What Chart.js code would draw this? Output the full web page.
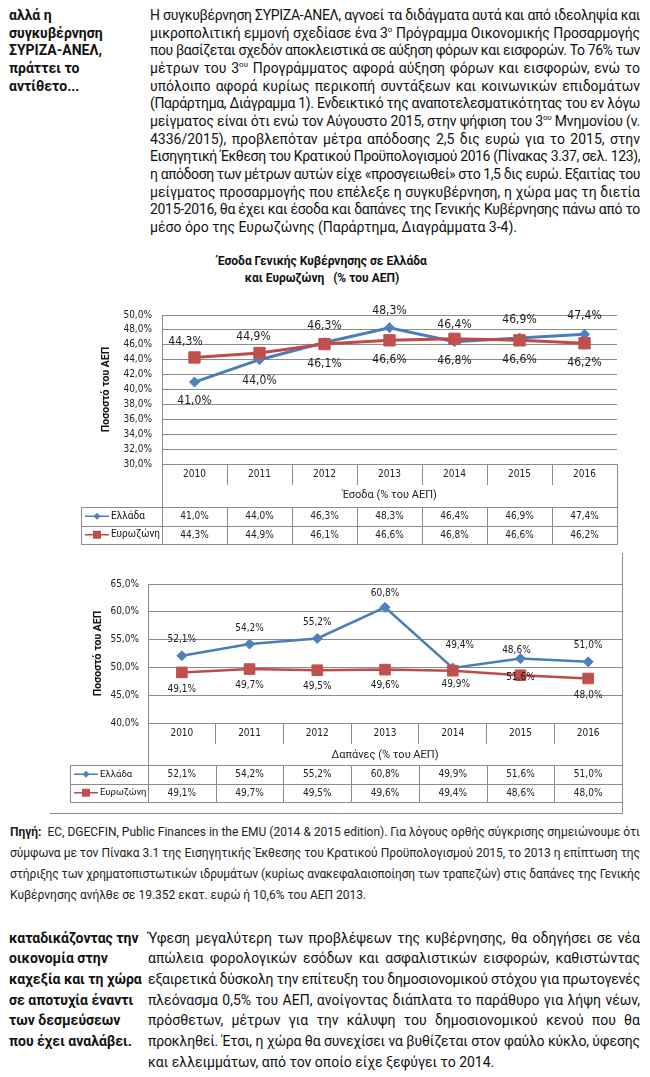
<!DOCTYPE html>
<html lang="el">
<head>
<meta charset="utf-8">
<title>Έσοδα και Δαπάνες Γενικής Κυβέρνησης</title>
<script src="https://cdn.jsdelivr.net/npm/chart.js@4.4.1/dist/chart.umd.min.js"></script>
<style>
  html, body { margin:0; padding:0; background:#fff; }
  body { position:relative; width:650px; height:1077px; overflow:hidden;
         font-family: Roboto, "Noto Sans", sans-serif; color:#111; }
  .ln { position:absolute; white-space:nowrap; }
  .txt { font-size:14px; }
  .side { font-size:14px; font-weight:bold; }
  .src { font-size:12px; color:#222; }
  sup { font-size:8px; line-height:0; vertical-align:6px; }
  .ctitle { position:absolute; left:172px; width:300px; text-align:center;
            font-weight:bold; font-size:12px; line-height:16px; }
  canvas { position:absolute; left:0; }
</style>
</head>
<body>
<div class="ctitle" style="top:253px">Έσοδα Γενικής Κυβέρνησης σε Ελλάδα</div>
<div class="ctitle" style="top:270px">και Ευρωζώνη&nbsp;&nbsp; (% του ΑΕΠ)</div>
<canvas id="revChart" width="650" height="260" style="top:290px;width:650px;height:260px"></canvas>
<canvas id="spendChart" width="650" height="270" style="top:550px;width:650px;height:270px"></canvas>

<script>
// categories + series
const years = ['2010', '2011', '2012', '2013', '2014', '2015', '2016'];
const seriesNames = ['Ελλάδα', 'Ευρωζώνη'];

// Έσοδα (% του ΑΕΠ)
const revGreece = [41.0, 44.0, 46.3, 48.3, 46.4, 46.9, 47.4];
const revEuro   = [44.3, 44.9, 46.1, 46.6, 46.8, 46.6, 46.2];

// Δαπάνες (% του ΑΕΠ)
const spendGreece = [52.1, 54.2, 55.2, 60.8, 49.9, 51.6, 51.0];
const spendEuro   = [49.1, 49.7, 49.5, 49.6, 49.4, 48.6, 48.0];

// point labels as printed in the original (2014/2015 are swapped there)
const spendGreeceTags = ['52,1%', '54,2%', '55,2%', '60,8%', '49,4%', '48,6%', '51,0%'];
const spendEuroTags   = ['49,1%', '49,7%', '49,5%', '49,6%', '49,9%', '51,6%', '48,0%'];

// y axis ticks
const revTicks   = { min: 30, max: 50, step: 2 };
const spendTicks = { min: 40, max: 65, step: 5 };

const fmt = v => v.toFixed(1).replace('.', ',') + '%';

const BLUE = '#4a7ebb', BLUE_M = '#4f81bd';
const RED = '#be4b48', RED_M = '#c0504d';
const GRID = '#8c8c8c';
const NUM_FONT = "'DejaVu Sans Condensed', 'Liberation Sans', sans-serif";
const TXT_FONT = "Roboto, 'Noto Sans', sans-serif";

Chart.defaults.font.family = NUM_FONT;
Chart.defaults.color = '#222';

/* ---------- plugins ---------- */

// value labels next to the points
const pointTags = {
  id: 'pointTags',
  afterDatasetsDraw(chart, args, o) {
    const ctx = chart.ctx;
    ctx.save();
    ctx.font = o.font;
    ctx.fillStyle = '#1a1a1a';
    ctx.textAlign = 'center';
    ctx.textBaseline = 'middle';
    chart.data.datasets.forEach((ds, i) => {
      const set = o.sets[i];
      chart.getDatasetMeta(i).data.forEach((pt, j) => {
        const txt = set.text ? set.text[j] : fmt(ds.data[j]);
        ctx.fillText(txt, pt.x + (set.dx ? set.dx[j] : 0), pt.y + set.dy[j]);
      });
    });
    ctx.restore();
  }
};

// excel-like data table under the x axis
const dataTable = {
  id: 'dataTable',
  afterDraw(chart, args, o) {
    const { ctx, chartArea: ca, scales } = chart;
    const n = chart.data.labels.length;
    const cw = (ca.right - ca.left) / n;
    const rows = chart.data.datasets.length;
    const t0 = ca.bottom + o.top;
    const t1 = t0 + rows * o.rowH;
    const px = v => Math.round(v) + 0.5;

    ctx.save();
    ctx.strokeStyle = GRID;
    ctx.lineWidth = 1;
    ctx.beginPath();
    for (let r = 0; r <= rows; r++) {
      const y = px(t0 + r * o.rowH);
      ctx.moveTo(px(o.left), y); ctx.lineTo(px(ca.right), y);
    }
    ctx.moveTo(px(o.left), px(t0)); ctx.lineTo(px(o.left), px(t1));
    ctx.moveTo(px(ca.left), ca.bottom); ctx.lineTo(px(ca.left), px(t1));
    ctx.moveTo(px(ca.right), ca.bottom); ctx.lineTo(px(ca.right), px(t1));
    for (let i = 1; i < n; i++) {
      const x = px(ca.left + i * cw);
      ctx.moveTo(x, px(t0)); ctx.lineTo(x, px(t1));
    }
    if (o.frame) {
      ctx.moveTo(px(ca.right), o.frame.top); ctx.lineTo(px(ca.right), px(o.frame.bottom));
      ctx.moveTo(o.frame.left, px(o.frame.bottom)); ctx.lineTo(px(ca.right), px(o.frame.bottom));
    }
    ctx.stroke();

    chart.data.datasets.forEach((ds, r) => {
      const yc = t0 + (r + 0.5) * o.rowH;
      ctx.fillStyle = '#222';
      ctx.font = '10px ' + NUM_FONT;
      ctx.textAlign = 'center';
      ctx.textBaseline = 'middle';
      ds.data.forEach((v, i) => ctx.fillText(fmt(v), scales.x.getPixelForValue(i), yc + 0.5));

      // legend key
      ctx.strokeStyle = ds.borderColor;
      ctx.lineWidth = 1.5;
      ctx.beginPath();
      ctx.moveTo(o.left + 4, yc); ctx.lineTo(o.left + 28, yc);
      ctx.stroke();
      const mx = o.left + 16;
      ctx.fillStyle = ds.backgroundColor;
      ctx.beginPath();
      if (ds.pointStyle === 'rectRot') {
        ctx.moveTo(mx, yc - 3.5); ctx.lineTo(mx + 3.5, yc);
        ctx.lineTo(mx, yc + 3.5); ctx.lineTo(mx - 3.5, yc);
        ctx.closePath();
      } else {
        ctx.rect(mx - 4, yc - 4, 8, 8);
      }
      ctx.fill();

      ctx.fillStyle = '#111';
      ctx.font = o.keyFont + ' ' + TXT_FONT;
      ctx.textAlign = 'left';
      ctx.fillText(ds.label, o.left + 30, yc);
    });
    ctx.restore();
  }
};

/* ---------- chart builder ---------- */
function makeChart(id, o) {
  return new Chart(document.getElementById(id), {
    type: 'line',
    data: {
      labels: years,
      datasets: [
        { label: seriesNames[0], data: o.greece, borderColor: BLUE, backgroundColor: BLUE_M,
          borderWidth: o.lw, pointStyle: 'rectRot', pointRadius: o.diamond,
          pointBorderColor: BLUE_M, pointBorderWidth: 1, tension: 0, order: 2 },
        { label: seriesNames[1], data: o.euro, borderColor: RED, backgroundColor: RED_M,
          borderWidth: o.lw, pointStyle: 'rect', pointRadius: o.square,
          pointBorderColor: RED_M, pointBorderWidth: 1, tension: 0, order: 1 }
      ]
    },
    options: {
      responsive: false,
      animation: false,
      layout: { padding: o.pad },
      plugins: {
        legend: { display: false },
        tooltip: { enabled: false },
        pointTags: { font: o.tagFont, sets: o.tags },
        dataTable: o.table
      },
      scales: {
        x: {
          offset: true,
          grid: { offset: true, drawOnChartArea: false, tickLength: 21, color: GRID },
          border: { color: GRID },
          ticks: { padding: o.xPad, autoSkip: false, maxRotation: 0, font: { size: 10 } },
          title: { display: true, text: o.xTitle, padding: 0, color: '#222',
                   font: { family: TXT_FONT, size: 11 } },
          afterFit: s => { s.height = o.xh; }
        },
        y: {
          min: o.ticks.min, max: o.ticks.max,
          ticks: { stepSize: o.ticks.step, autoSkip: false, padding: o.yPad,
                   callback: v => fmt(v), font: { size: 10 } },
          grid: { color: GRID, drawTicks: false },
          border: { color: GRID },
          title: { display: true, text: 'Ποσοστό του ΑΕΠ', padding: 0, color: '#111',
                   font: { family: TXT_FONT, size: 10.5, weight: 'bold' } },
          afterFit: s => { s.width = o.yw; }
        }
      }
    },
    plugins: [pointTags, dataTable]
  });
}

makeChart('revChart', {
  greece: revGreece, euro: revEuro, ticks: revTicks,
  lw: 3, diamond: 5, square: 8,
  pad: { left: 100, right: 33, top: 25, bottom: 48 },
  yw: 62, xh: 38, yPad: 10, xPad: -17,
  xTitle: 'Έσοδα (% του ΑΕΠ)',
  tagFont: '12px ' + NUM_FONT,
  tags: [
    { dy: [19, 21, -17, -17, -17, -18, -18] },
    { dy: [-16, -16, 20, 20, 22, 20, 20], dx: [-9, -6, 0, 0, 0, 0, 0] }
  ],
  table: { left: 81, top: 43, rowH: 18.5, keyFont: '10px' }
});

makeChart('spendChart', {
  greece: spendGreece, euro: spendEuro, ticks: spendTicks,
  lw: 2.5, diamond: 5, square: 7.5,
  pad: { left: 92, right: 28, top: 34, bottom: 58 },
  yw: 56, xh: 39, yPad: 9, xPad: -17,
  xTitle: 'Δαπάνες (% του ΑΕΠ)',
  tagFont: '10px ' + NUM_FONT,
  tags: [
    { text: spendGreeceTags, dy: [-16, -16, -16, -14, -23, -8, -16], dx: [0, 0, 0, 0, 7, -4, 0] },
    { text: spendEuroTags, dy: [17, 16, 16, 16, 14, 2, 17], dx: [0, 0, 0, 0, 3, 0, 0] }
  ],
  table: { left: 70, top: 42, rowH: 18.5, keyFont: '9.5px',
           frame: { left: 50, top: 3, bottom: 263 } }
});

/* ---------- text blocks ---------- */
function fitLine(d, w, justified) {
  const nat = d.getBoundingClientRect().width;
  const n = d.textContent.length;
  if (nat > w - 1) d.style.letterSpacing = ((w - 1.5 - nat) / n).toFixed(3) + 'px';
  d.style.width = w + 'px';
  d.style.whiteSpace = 'normal';
  if (justified) { d.style.textAlign = 'justify'; d.style.textAlignLast = 'justify'; }
}

function textBlock(lines, x, y0, w, lh, cls, justify) {
  lines.forEach((html, i) => {
    const d = document.createElement('div');
    d.className = 'ln ' + cls;
    d.style.left = x + 'px';
    d.style.top = (y0 + i * lh - lh / 2) + 'px';
    d.style.lineHeight = lh + 'px';
    d.innerHTML = html;
    document.body.appendChild(d);
    fitLine(d, w, justify && i < lines.length - 1);
  });
}

textBlock([
  'αλλά η', 'συγκυβέρνηση', 'ΣΥΡΙΖΑ-ΑΝΕΛ,', 'πράττει το', 'αντίθετο...'
], 9, 16, 138, 17.65, 'side', false);

textBlock([
  'Η συγκυβέρνηση ΣΥΡΙΖΑ-ΑΝΕΛ, αγνοεί τα διδάγματα αυτά και από ιδεοληψία και',
  'μικροπολιτική εμμονή σχεδίασε ένα 3<sup>ο</sup> Πρόγραμμα Οικονομικής Προσαρμογής',
  'που βασίζεται σχεδόν αποκλειστικά σε αύξηση φόρων και εισφορών. Το 76% των',
  'μέτρων του 3<sup>ου</sup> Προγράμματος αφορά αύξηση φόρων και εισφορών, ενώ το',
  'υπόλοιπο αφορά κυρίως περικοπή συντάξεων και κοινωνικών επιδομάτων',
  '(Παράρτημα, Διάγραμμα 1). Ενδεικτικό της αναποτελεσματικότητας του εν λόγω',
  'μείγματος είναι ότι ενώ τον Αύγουστο 2015, στην ψήφιση του 3<sup>ου</sup> Μνημονίου (ν.',
  '4336/2015), προβλεπόταν μέτρα απόδοσης 2,5 δις ευρώ για το 2015, στην',
  'Εισηγητική Έκθεση του Κρατικού Προϋπολογισμού 2016 (Πίνακας 3.37, σελ. 123),',
  'η απόδοση των μέτρων αυτών είχε «προσγειωθεί» στο 1,5 δις ευρώ. Εξαιτίας του',
  'μείγματος προσαρμογής που επέλεξε η συγκυβέρνηση, η χώρα μας τη διετία',
  '2015-2016, θα έχει και έσοδα και δαπάνες της Γενικής Κυβέρνησης πάνω από το',
  'μέσο όρο της Ευρωζώνης (Παράρτημα, Διαγράμματα 3-4).'
], 150, 16, 490, 17.65, 'txt', true);

textBlock([
  '<b>Πηγή:</b>&nbsp; EC, DGECFIN, Public Finances in the EMU (2014 &amp; 2015 edition). Για λόγους ορθής σύγκρισης σημειώνουμε ότι',
  'σύμφωνα με τον Πίνακα 3.1 της Εισηγητικής Έκθεσης του Κρατικού Προϋπολογισμού 2015, το 2013 η επίπτωση της',
  'στήριξης των χρηματοπιστωτικών ιδρυμάτων (κυρίως ανακεφαλαιοποίηση των τραπεζών) στις δαπάνες της Γενικής',
  'Κυβέρνησης ανήλθε σε 19.352 εκατ. ευρώ ή 10,6% του ΑΕΠ 2013.'
], 10, 832, 630, 21, 'src', true);

textBlock([
  'καταδικάζοντας την', 'οικονομία στην', 'καχεξία και τη χώρα',
  'σε αποτυχία έναντι', 'των δεσμεύσεων', 'που έχει αναλάβει.'
], 9, 938, 138, 20.7, 'side', false);

textBlock([
  'Ύφεση μεγαλύτερη των προβλέψεων της κυβέρνησης, θα οδηγήσει σε νέα',
  'απώλεια φορολογικών εσόδων και ασφαλιστικών εισφορών, καθιστώντας',
  'εξαιρετικά δύσκολη την επίτευξη του δημοσιονομικού στόχου για πρωτογενές',
  'πλεόνασμα 0,5% του ΑΕΠ, ανοίγοντας διάπλατα το παράθυρο για λήψη νέων,',
  'πρόσθετων, μέτρων για την κάλυψη του δημοσιονομικού κενού που θα',
  'προκληθεί. Έτσι, η χώρα θα συνεχίσει να βυθίζεται στον φαύλο κύκλο, ύφεσης',
  'και ελλειμμάτων, από τον οποίο είχε ξεφύγει το 2014.'
], 148, 938, 492, 20.7, 'txt', true);
</script>
</body>
</html>
